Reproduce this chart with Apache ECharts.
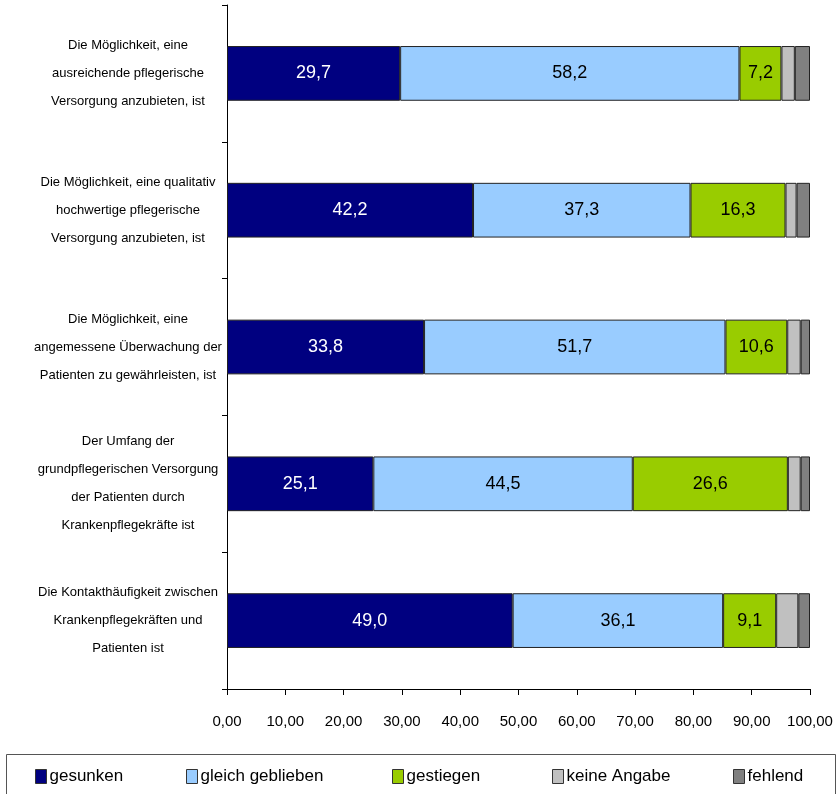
<!DOCTYPE html>
<html><head><meta charset="utf-8">
<script src="https://cdn.jsdelivr.net/npm/echarts@6/dist/echarts.min.js"></script>
<style>html,body{margin:0;padding:0;background:#fff}#c{width:839px;height:794px}</style>
</head><body><div id="c"></div>
<script>
var categories = [
  "Die Möglichkeit, eine\nausreichende pflegerische\nVersorgung anzubieten, ist",
  "Die Möglichkeit, eine qualitativ\nhochwertige pflegerische\nVersorgung anzubieten, ist",
  "Die Möglichkeit, eine\nangemessene Überwachung der\nPatienten zu gewährleisten, ist",
  "Der Umfang der\ngrundpflegerischen Versorgung\nder Patienten durch\nKrankenpflegekräfte ist",
  "Die Kontakthäufigkeit zwischen\nKrankenpflegekräften und\nPatienten ist"
];
var seriesNames = ["gesunken", "gleich geblieben", "gestiegen", "keine Angabe", "fehlend"];
var gesunken = [29.7, 42.2, 33.8, 25.1, 49.0];
var gleichGeblieben = [58.2, 37.3, 51.7, 44.5, 36.1];
var gestiegen = [7.2, 16.3, 10.6, 26.6, 9.1];
var keineAngabe = [2.3, 1.9, 2.3, 2.2, 3.8];
var fehlend = [2.6, 2.3, 1.6, 1.6, 2.0];
var xTicks = [0, 10, 20, 30, 40, 50, 60, 70, 80, 90, 100];

var colors = ["#000080", "#99CCFF", "#99CC00", "#C0C0C0", "#808080"];
var FONT = "'Liberation Sans Narrow', 'Liberation Sans', Arial, sans-serif";
var values = [gesunken, gleichGeblieben, gestiegen, keineAngabe, fehlend];
var labelColors = ["#ffffff", "#000000", "#000000", null, null];

var series = values.map(function (arr, i) {
  return {
    name: seriesNames[i], type: "bar", stack: "total", data: arr,
    barCategoryGap: "60%",
    itemStyle: { color: colors[i], borderColor: "#222", borderWidth: 1 },
    label: {
      show: i < 3, position: "inside", color: labelColors[i] || "#000",
      fontFamily: FONT, fontSize: 18,
      formatter: function (p) { return p.value.toFixed(1).replace(".", ","); }
    },
    emphasis: { disabled: true }
  };
});

var legendX = [30, 181, 387, 547, 728];
var legends = seriesNames.map(function (n, i) {
  return {
    data: [n], left: legendX[i], top: 763, orient: "horizontal",
    itemWidth: 11, itemHeight: 14, itemGap: 4,
    icon: "rect",
    textStyle: { fontFamily: FONT, fontSize: 17, color: "#000", padding: [0, 0, 0, -2] },
    itemStyle: { borderColor: "#333", borderWidth: 1 },
    selectedMode: false
  };
});

var chart = echarts.init(document.getElementById("c"), null, { renderer: "canvas" });
chart.setOption({
  animation: false,
  color: colors,
  grid: { left: 227, right: 29, top: 5, bottom: 105, containLabel: false },
  xAxis: {
    type: "value", min: 0, max: 100, interval: 10,
    axisLine: { show: true, lineStyle: { color: "#000", width: 1 } },
    axisTick: { show: true, length: 6, lineStyle: { color: "#000" } },
    splitLine: { show: false },
    axisLabel: {
      margin: 25, color: "#000", fontFamily: FONT, fontSize: 15,
      formatter: function (v) { return xTicks.indexOf(v) >= 0 ? v.toFixed(2).replace(".", ",") : ""; }
    }
  },
  yAxis: {
    type: "category", data: categories, inverse: true,
    axisLine: { show: true, lineStyle: { color: "#000", width: 1 } },
    axisTick: { show: true, length: 5, lineStyle: { color: "#000" } },
    axisLabel: {
      align: "center", margin: 99, color: "#000", fontFamily: FONT, fontSize: 13, lineHeight: 28
    }
  },
  legend: legends,
  graphic: [{
    type: "rect", left: 4, top: 752,
    shape: { width: 829, height: 50 },
    style: { fill: "none", stroke: "#555", lineWidth: 1 }, silent: true
  }],
  series: series
});
</script></body></html>
